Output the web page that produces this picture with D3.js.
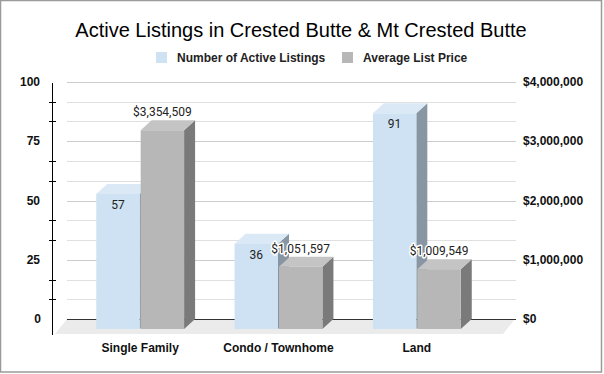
<!DOCTYPE html>
<html><head><meta charset="utf-8">
<script src="https://cdn.jsdelivr.net/npm/d3@7"></script>
<style>html,body{margin:0;padding:0;background:#fff}svg{display:block}</style>
</head><body>
<svg id="c" width="604" height="374"></svg>
<script>
const title = "Active Listings in Crested Butte & Mt Crested Butte";
const categories = ["Single Family", "Condo / Townhome", "Land"];
const seriesNames = ["Number of Active Listings", "Average List Price"];
const listings = [57, 36, 91];
const prices = [3354509, 1051597, 1009549];
const leftTicks = [0, 25, 50, 75, 100];
const rightTicks = [0, 1000000, 2000000, 3000000, 4000000];

const svg = d3.select("#c");
const dx = 11, dy = -10;           // bar depth offset
const fdx = 12, fdy = -15;         // floor depth offset

const colors = {
  blue: {front: "#cfe2f3", top: "#dbe9f6", side: "#8796a2"},
  gray: {front: "#b7b7b7", top: "#c4c4c4", side: "#7a7a7a"}
};

// border
svg.append("rect").attr("x", 0.5).attr("y", 0.5).attr("width", 601).attr("height", 371.5)
  .attr("fill", "#fff").attr("stroke", "#9a9a9a").attr("stroke-width", 1.5);

// title
svg.append("text").attr("x", 301).attr("y", 37).attr("text-anchor", "middle")
  .style("font-family", "Liberation Sans, Arial, sans-serif").style("font-size", "20px")
  .attr("fill", "#000").text(title);

// legend
const legend = [{x: 156, c: colors.blue.front, t: seriesNames[0]}, {x: 342, c: colors.gray.front, t: seriesNames[1]}];
legend.forEach(l => {
  svg.append("rect").attr("x", l.x).attr("y", 52).attr("width", 11).attr("height", 11).attr("fill", l.c);
  svg.append("text").attr("x", l.x + 21).attr("y", 62)
    .style("font-family", "Liberation Sans, Arial, sans-serif").style("font-size", "12px").style("font-weight", "bold")
    .attr("fill", "#222").text(l.t);
});

// scales (back plane)
const yL = d3.scaleLinear().domain([0, 100]).range([319, 82]);
const yR = d3.scaleLinear().domain([0, 4000000]).range([319, 82]);
const gx0 = 67, gx1 = 516;

// floor
svg.append("path")
  .attr("d", `M${gx0 - fdx},${yL(0) - fdy} L${gx0},${yL(0)} L${gx1 - 1},${yL(0)} L${gx1 - 1 - fdx},${yL(0) - fdy} Z`)
  .attr("fill", "#ebebeb");

// gridlines (major + minor)
const gridVals = d3.range(0, 100.01, 25 / 3);
gridVals.forEach((v, i) => {
  if (i === 0) return;
  svg.append("line").attr("x1", gx0).attr("x2", gx1).attr("y1", Math.round(yL(v)) + 0.5).attr("y2", Math.round(yL(v)) + 0.5)
    .attr("stroke", i % 3 === 0 ? "#cccccc" : "#e0e0e0").attr("stroke-width", 1);
});
svg.append("line").attr("x1", gx0).attr("x2", gx1).attr("y1", Math.round(yL(0)) + 0.5).attr("y2", Math.round(yL(0)) + 0.5)
  .attr("stroke", "#333").attr("stroke-width", 1);

// left axis line + minor ticks
svg.append("line").attr("x1", 52.5).attr("x2", 52.5).attr("y1", 83).attr("y2", 335).attr("stroke", "#000").attr("stroke-width", 1);
gridVals.forEach((v, i) => {
  if (i % 3 === 0) return;
  svg.append("line").attr("x1", 49).attr("x2", 56).attr("y1", Math.round(yL(v)) + 0.5).attr("y2", Math.round(yL(v)) + 0.5)
    .attr("stroke", "#000").attr("stroke-width", 1);
});

// axis labels
const axisFont = sel => sel.style("font-family", "Liberation Sans, Arial, sans-serif").style("font-size", "12px")
  .style("font-weight", "bold").attr("fill", "#111");
leftTicks.forEach(v => {
  svg.append("text").attr("x", v === 0 ? 41 : 40).attr("y", yL(v) + 4).attr("text-anchor", "end").call(axisFont).text(d3.format("d")(v));
});
const fmtMoney = v => "$" + d3.format(",")(v);
rightTicks.forEach(v => {
  svg.append("text").attr("x", 523).attr("y", yR(v) + 4).attr("text-anchor", "start").call(axisFont).text(fmtMoney(v));
});

// bars (front face = back plane shifted by -dx, -dy)
const xBand = d3.scaleBand().domain(categories).range([71, 486]).paddingInner(0.365).paddingOuter(0.1825);
const xSub = d3.scaleBand().domain([0, 1]).range([0, xBand.bandwidth()]).paddingInner(0.023);

function bar3d(x, w, yTop, yBase, c) {
  const g = svg.append("g");
  g.append("path").attr("d", `M${x + w},${yTop} L${x + w + dx},${yTop + dy} L${x + w + dx},${yBase + dy} L${x + w},${yBase} Z`).attr("fill", c.side);
  g.append("path").attr("d", `M${x},${yTop} L${x + dx},${yTop + dy} L${x + w + dx},${yTop + dy} L${x + w},${yTop} Z`).attr("fill", c.top);
  g.append("rect").attr("x", x).attr("y", yTop).attr("width", w).attr("height", yBase - yTop).attr("fill", c.front);
}

const frontY = v => v + 10;
const labelFont = sel => sel.style("font-family", "Roboto, sans-serif").style("font-size", "12px").attr("fill", "#222")
  .attr("stroke", "#fff").attr("stroke-width", 3).attr("stroke-linejoin", "round").style("paint-order", "stroke");

categories.forEach((cat, i) => {
  const x0 = xBand(cat) + xSub(0), x1 = xBand(cat) + xSub(1), w = xSub.bandwidth();
  const base = frontY(yL(0));
  const yb = frontY(yL(listings[i]));
  const yg = frontY(yR(prices[i]));
  bar3d(x0, w, yb, base, colors.blue);
  bar3d(x1, w, yg, base, colors.gray);
  svg.append("text").attr("x", x0 + w / 2).attr("y", yb + 15).attr("text-anchor", "middle")
    .style("font-family", "Roboto, sans-serif").style("font-size", "12px").attr("fill", "#222").text(listings[i]);
  svg.append("text").attr("x", x1 + w / 2).attr("y", yg - 14).attr("text-anchor", "middle").call(labelFont).text(fmtMoney(prices[i]));
  svg.append("text").attr("x", xBand(cat) + xBand.bandwidth() / 2).attr("y", 352).attr("text-anchor", "middle")
    .style("font-family", "Liberation Sans, Arial, sans-serif").style("font-size", "12px").style("font-weight", "bold")
    .attr("fill", "#111").text(cat);
});
</script>
</body></html>
